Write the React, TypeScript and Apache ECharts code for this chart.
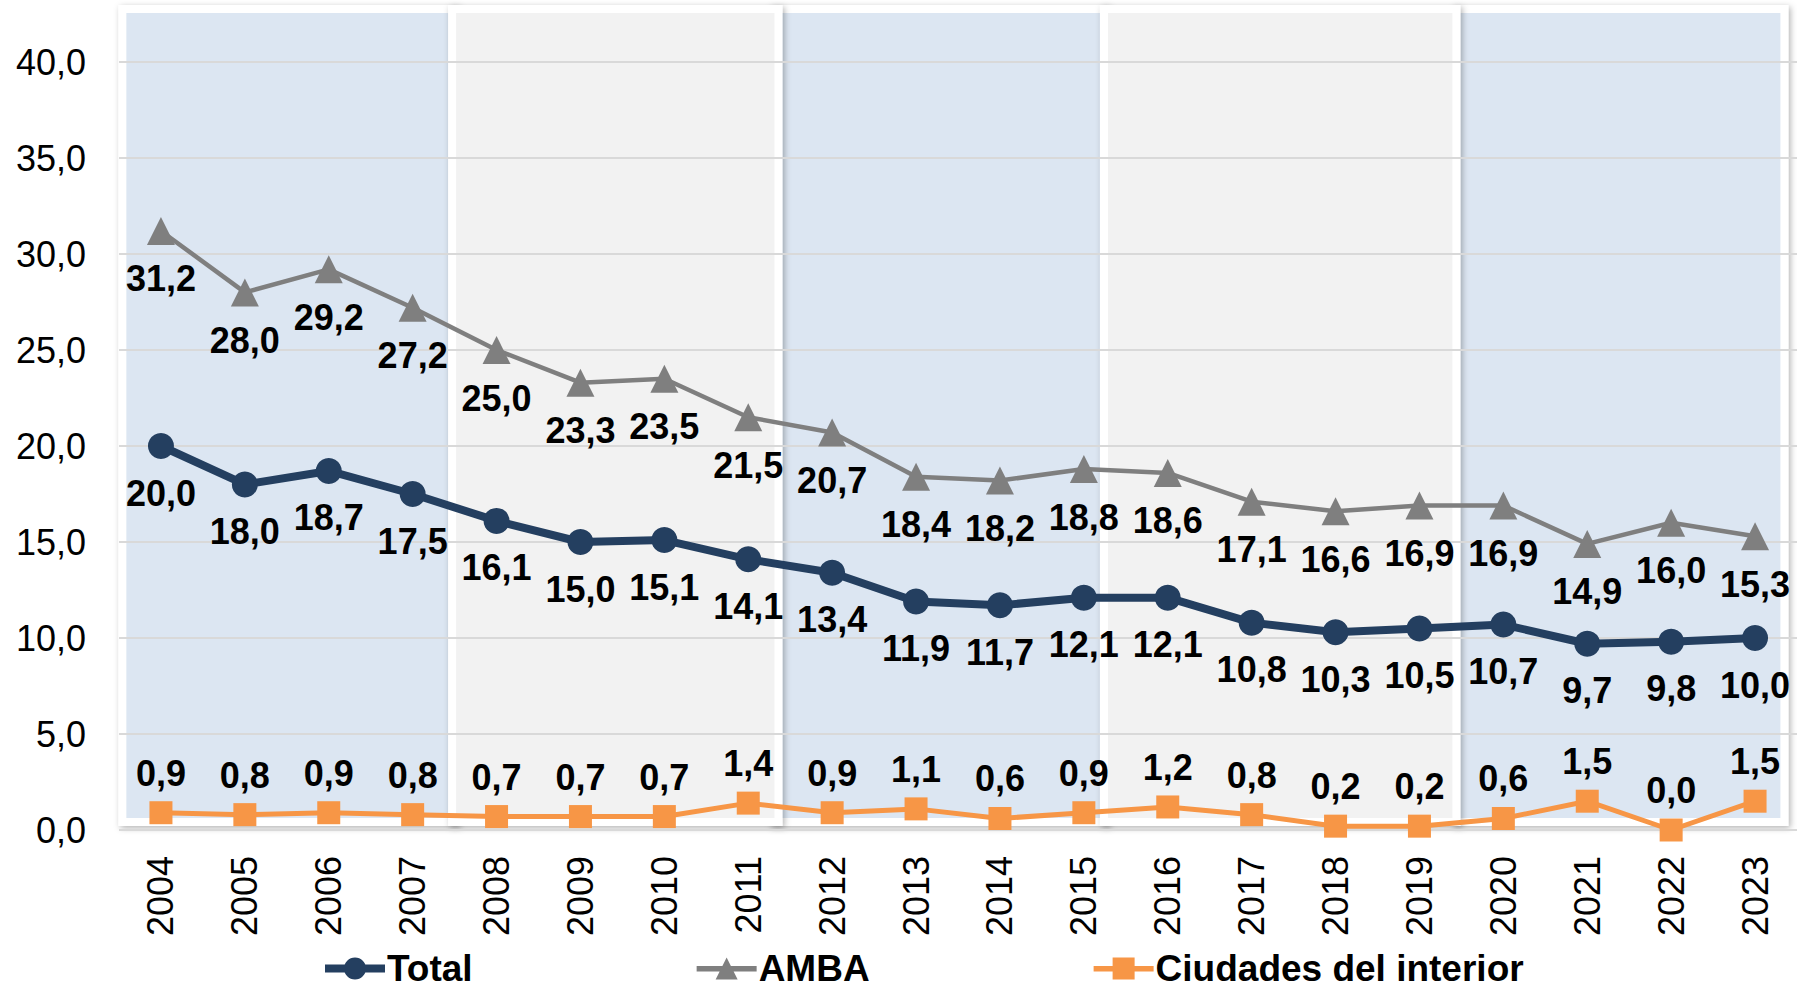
import React, { useEffect, useRef } from "react";
import * as echarts from "echarts";

const years = ["2004", "2005", "2006", "2007", "2008", "2009", "2010", "2011", "2012", "2013", "2014", "2015", "2016", "2017", "2018", "2019", "2020", "2021", "2022", "2023"];
const total = [20.0, 18.0, 18.7, 17.5, 16.1, 15.0, 15.1, 14.1, 13.4, 11.9, 11.7, 12.1, 12.1, 10.8, 10.3, 10.5, 10.7, 9.7, 9.8, 10.0];
const amba = [31.2, 28.0, 29.2, 27.2, 25.0, 23.3, 23.5, 21.5, 20.7, 18.4, 18.2, 18.8, 18.6, 17.1, 16.6, 16.9, 16.9, 14.9, 16.0, 15.3];
const interior = [0.9, 0.8, 0.9, 0.8, 0.7, 0.7, 0.7, 1.4, 0.9, 1.1, 0.6, 0.9, 1.2, 0.8, 0.2, 0.2, 0.6, 1.5, 0.0, 1.5];

const seriesNames = ["Total", "AMBA", "Ciudades del interior"];
const seriesColors = ["#243F60", "#7F7F7F", "#F79646"];

const yMin = 0;
const yMax = 40;
const yInterval = 5;

// background panels, in category units (category i spans [i, i+1])
const bandStart = [0.04, 7.8, 15.94, 3.97, 11.74];
const bandEnd = [4.0, 11.75, 19.85, 7.86, 15.94];
const bandColors = ["#DCE6F2", "#DCE6F2", "#DCE6F2", "#F2F2F2", "#F2F2F2"];

// legend icons: thick line + marker (60x22 box)
const legendIcons = [
  "path://M0,7 H60 V15 H0 Z M19,11 A11,11 0 1,1 41,11 A11,11 0 1,1 19,11 Z",
  "path://M0,8.5 H60 V14 H0 Z M30,0 L41,22 L19,22 Z",
  "path://M0,8.5 H60 V14 H0 Z M19,0 H41 V22 H19 Z",
];

const FONT = "'Liberation Sans', Arial, sans-serif";
const fmt = (v: number) => v.toFixed(1).replace(".", ",");

export default function App() {
  const ref = useRef<HTMLDivElement>(null);

  useEffect(() => {
    if (!ref.current) return;
    const chart = echarts.init(ref.current, undefined, { renderer: "svg" });

    const labelStyle = {
      show: true,
      fontSize: 36,
      fontWeight: "bold" as const,
      color: "#000",
      fontFamily: FONT,
      formatter: (p: any) => fmt(p.value),
    };

    chart.setOption({
      animation: false,
      backgroundColor: "#fff",
      textStyle: { fontFamily: FONT },
      grid: [
        { left: 119, top: 62, width: 1680, height: 768 },
        { left: 119, top: 9, width: 1680, height: 813 },
      ],
      xAxis: [
        {
          type: "category",
          data: years,
          gridIndex: 0,
          boundaryGap: true,
          axisLine: { show: false },
          axisTick: { show: false },
          axisLabel: {
            rotate: 90,
            fontSize: 36,
            color: "#000",
            fontFamily: FONT,
            margin: 26,
          },
        },
        { type: "value", gridIndex: 1, min: 0, max: 20, show: false },
      ],
      yAxis: [
        {
          type: "value",
          gridIndex: 0,
          min: yMin,
          max: yMax,
          interval: yInterval,
          z: 1,
          axisLine: { show: false },
          axisTick: { show: false },
          axisLabel: {
            fontSize: 36,
            color: "#000",
            fontFamily: FONT,
            margin: 33,
            formatter: (v: number) => fmt(v),
          },
          splitLine: { lineStyle: { color: "#D9D9D9", width: 2 } },
        },
        { type: "value", gridIndex: 1, min: 0, max: 1, show: false },
      ],
      legend: {
        data: seriesNames.map((n, i) => ({ name: n, icon: legendIcons[i] })),
        left: 320,
        top: 945,
        itemWidth: 60,
        itemHeight: 22,
        itemGap: 224,
        textStyle: { fontSize: 37, fontWeight: "bold", color: "#000", fontFamily: FONT, padding: [0, 0, 0, -3] },
      },
      series: [
        {
          type: "line",
          name: "bands",
          xAxisIndex: 1,
          yAxisIndex: 1,
          data: [],
          silent: true,
          markArea: {
            silent: true,
            z: 0,
            itemStyle: {
              borderColor: "#FFFFFF",
              borderWidth: 8,
              shadowBlur: 6,
              shadowColor: "rgba(0,0,0,0.3)",
              shadowOffsetX: 2,
              shadowOffsetY: 2,
            },
            data: bandStart.map((s, i) => [
              { xAxis: s, yAxis: 0, itemStyle: { color: bandColors[i] } },
              { xAxis: bandEnd[i], yAxis: 1 },
            ]),
          },
        },
        {
          type: "line",
          name: seriesNames[0],
          data: total,
          color: seriesColors[0],
          symbol: "circle",
          symbolSize: 26,
          lineStyle: { width: 8, color: seriesColors[0] },
          itemStyle: { color: seriesColors[0] },
          label: { ...labelStyle, position: "bottom", distance: 16 },
          z: 4,
        },
        {
          type: "line",
          name: seriesNames[1],
          data: amba,
          color: seriesColors[1],
          symbol: "triangle",
          symbolSize: 28,
          lineStyle: { width: 4.5, color: seriesColors[1] },
          itemStyle: { color: seriesColors[1] },
          label: { ...labelStyle, position: "bottom", distance: 16 },
          z: 3,
        },
        {
          type: "line",
          name: seriesNames[2],
          data: interior,
          color: seriesColors[2],
          symbol: "rect",
          symbolSize: 23,
          lineStyle: { width: 5, color: seriesColors[2] },
          itemStyle: { color: seriesColors[2] },
          label: { ...labelStyle, position: "top", distance: 10 },
          z: 3,
        },
      ],
    });

    return () => chart.dispose();
  }, []);

  return (
    <div
      ref={ref}
      style={{ position: "fixed", left: 0, top: 0, width: 1797, height: 989 }}
    />
  );
}
